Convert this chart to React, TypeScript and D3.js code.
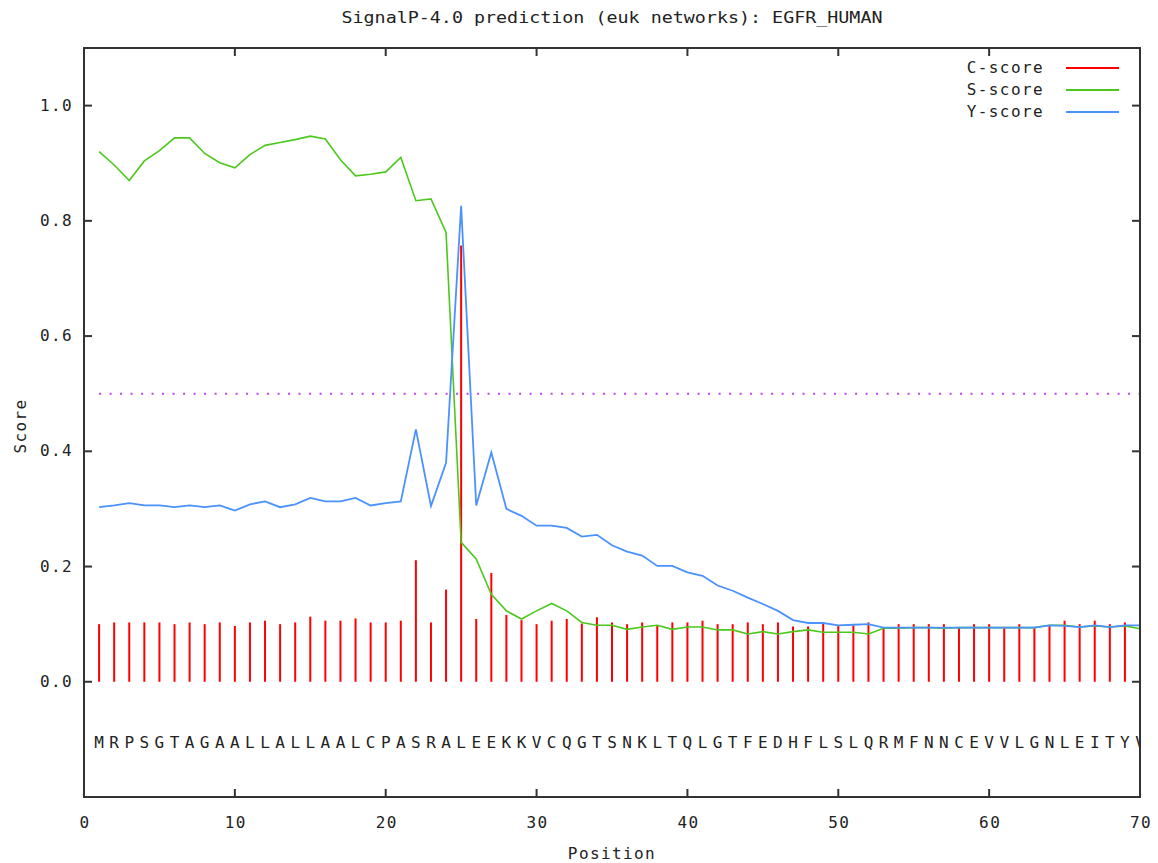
import { useRef, useEffect } from 'react';
import * as d3 from 'd3';

const title = 'SignalP-4.0 prediction (euk networks): EGFR_HUMAN';
const sequence = 'MRPSGTAGAALLALLAALCPASRALEEKKVCQGTSNKLTQLGTFEDHFLSLQRMFNNCEVVLGNLEITYV';

// scores per position 1..70
const cScore = [
  0.100, 0.103, 0.103, 0.103, 0.103, 0.100, 0.103, 0.100, 0.103, 0.097,
  0.103, 0.106, 0.100, 0.103, 0.113, 0.106, 0.106, 0.110, 0.103, 0.103,
  0.106, 0.211, 0.103, 0.160, 0.757, 0.109, 0.189, 0.116, 0.107, 0.100,
  0.106, 0.109, 0.101, 0.112, 0.103, 0.100, 0.103, 0.097, 0.103, 0.103,
  0.106, 0.100, 0.100, 0.103, 0.100, 0.103, 0.096, 0.096, 0.101, 0.097,
  0.098, 0.103, 0.094, 0.100, 0.100, 0.100, 0.100, 0.094, 0.100, 0.100,
  0.094, 0.100, 0.094, 0.097, 0.106, 0.100, 0.106, 0.100, 0.103, 0.100,
];
const sScore = [
  0.920, 0.897, 0.870, 0.904, 0.922, 0.944, 0.944, 0.917, 0.901, 0.892,
  0.915, 0.931, 0.936, 0.941, 0.947, 0.942, 0.906, 0.878, 0.881, 0.885,
  0.910, 0.835, 0.838, 0.780, 0.242, 0.213, 0.152, 0.123, 0.109, 0.123,
  0.136, 0.123, 0.103, 0.098, 0.098, 0.091, 0.095, 0.098, 0.091, 0.095,
  0.095, 0.090, 0.090, 0.083, 0.087, 0.083, 0.087, 0.090, 0.086, 0.086,
  0.086, 0.083, 0.093, 0.093, 0.094, 0.094, 0.093, 0.094, 0.094, 0.094,
  0.094, 0.094, 0.094, 0.098, 0.098, 0.095, 0.097, 0.095, 0.097, 0.092,
];
const yScoreVals = [
  0.303, 0.306, 0.310, 0.306, 0.306, 0.303, 0.306, 0.303, 0.306, 0.297,
  0.308, 0.313, 0.303, 0.308, 0.319, 0.313, 0.313, 0.319, 0.306, 0.310,
  0.313, 0.438, 0.305, 0.380, 0.826, 0.306, 0.398, 0.300, 0.288, 0.271,
  0.271, 0.267, 0.252, 0.255, 0.237, 0.226, 0.219, 0.201, 0.201, 0.190,
  0.184, 0.167, 0.158, 0.146, 0.135, 0.123, 0.107, 0.102, 0.102, 0.098,
  0.099, 0.100, 0.094, 0.094, 0.094, 0.094, 0.094, 0.094, 0.094, 0.094,
  0.094, 0.094, 0.094, 0.098, 0.097, 0.095, 0.098, 0.095, 0.098, 0.098,
];

const xTicks = [0, 10, 20, 30, 40, 50, 60, 70];
const yTicks = [0.0, 0.2, 0.4, 0.6, 0.8, 1.0];
const threshold = 0.5;

const legend = [
  { label: 'C-score', color: '#ff0000' },
  { label: 'S-score', color: '#4cc81c' },
  { label: 'Y-score', color: '#4a92ff' },
];

const FONT = '"DejaVu Sans Mono", monospace';

export default function App() {
  const svgRef = useRef<SVGSVGElement>(null);

  useEffect(() => {
    if (!svgRef.current) return;
    const svg = d3.select(svgRef.current);
    svg.selectAll('*').remove();

    const width = 1158;
    const height = 863;
    const margin = { top: 48, right: 18, bottom: 66, left: 84 };
    const x0 = margin.left;
    const x1 = width - margin.right;
    const y0 = height - margin.bottom;
    const y1 = margin.top;

    const xScale = d3.scaleLinear().domain([0, 70]).range([x0, x1]);
    const yScale = d3.scaleLinear().domain([-0.2, 1.1]).range([y0, y1]);

    svg.append('rect').attr('width', width).attr('height', height).attr('fill', '#fff');

    svg.append('defs').append('clipPath').attr('id', 'plotclip')
      .append('rect').attr('x', x0).attr('y', y1).attr('width', x1 - x0).attr('height', y0 - y1);

    // gnuplot-like wide monospace text
    const txt = (sel: any) =>
      sel.attr('font-family', FONT).attr('font-size', 16).attr('fill', '#222');
    const wide = (sel: any) => sel.call(txt).attr('letter-spacing', 1.4);

    // Title
    svg.append('text')
      .attr('x', 612).attr('y', 23)
      .attr('text-anchor', 'middle')
      .attr('textLength', 541).attr('lengthAdjust', 'spacingAndGlyphs')
      .call(txt)
      .text(title);

    // threshold
    svg.append('line')
      .attr('x1', xScale(1)).attr('x2', xScale(70))
      .attr('y1', yScale(threshold)).attr('y2', yScale(threshold))
      .attr('stroke', '#c040f0').attr('stroke-width', 2)
      .attr('stroke-dasharray', '2 8.5');

    const idx = d3.range(1, 71);
    const plot = svg.append('g').attr('clip-path', 'url(#plotclip)');

    // C-score impulses
    plot.selectAll('line.c')
      .data(idx)
      .join('line')
      .attr('class', 'c')
      .attr('x1', (p) => xScale(p)).attr('x2', (p) => xScale(p))
      .attr('y1', yScale(0)).attr('y2', (p) => yScale(cScore[p - 1]))
      .attr('stroke', legend[0].color).attr('stroke-width', 2);

    const line = (vals: number[]) =>
      d3.line<number>()
        .x((p) => xScale(p))
        .y((p) => yScale(vals[p - 1]))(idx);

    plot.append('path').attr('d', line(sScore))
      .attr('fill', 'none').attr('stroke', legend[1].color).attr('stroke-width', 1.6);
    plot.append('path').attr('d', line(yScoreVals))
      .attr('fill', 'none').attr('stroke', legend[2].color).attr('stroke-width', 1.8);

    // sequence
    plot.selectAll('text.seq')
      .data(sequence.split(''))
      .join('text')
      .attr('class', 'seq')
      .attr('x', (_, i) => xScale(i + 1)).attr('y', 748)
      .attr('text-anchor', 'middle')
      .call(txt)
      .text((d) => d);

    // frame
    svg.append('rect')
      .attr('x', x0).attr('y', y1).attr('width', x1 - x0).attr('height', y0 - y1)
      .attr('fill', 'none').attr('stroke', '#333').attr('stroke-width', 2);

    const tickLen = 8;
    xTicks.forEach((t) => {
      const x = xScale(t);
      svg.append('line').attr('x1', x).attr('x2', x).attr('y1', y0).attr('y2', y0 - tickLen)
        .attr('stroke', '#333').attr('stroke-width', 2);
      svg.append('line').attr('x1', x).attr('x2', x).attr('y1', y1).attr('y2', y1 + tickLen)
        .attr('stroke', '#333').attr('stroke-width', 2);
      svg.append('text').attr('x', x + 1).attr('y', 828).attr('text-anchor', 'middle')
        .call(wide).text(String(t));
    });
    yTicks.forEach((t) => {
      const y = yScale(t);
      svg.append('line').attr('x1', x0).attr('x2', x0 + tickLen).attr('y1', y).attr('y2', y)
        .attr('stroke', '#333').attr('stroke-width', 2);
      svg.append('line').attr('x1', x1).attr('x2', x1 - tickLen).attr('y1', y).attr('y2', y)
        .attr('stroke', '#333').attr('stroke-width', 2);
      svg.append('text').attr('x', 73).attr('y', y + 5).attr('text-anchor', 'end')
        .call(wide).text(t.toFixed(1));
    });

    // axis labels
    svg.append('text').attr('x', 612).attr('y', 859).attr('text-anchor', 'middle')
      .call(wide).text('Position');
    svg.append('text')
      .attr('transform', `translate(26, 426) rotate(-90)`)
      .attr('text-anchor', 'middle')
      .call(wide).text('Score');

    // legend
    legend.forEach((l, i) => {
      const y = 68 + i * 22;
      svg.append('text').attr('x', 1044).attr('y', y + 5).attr('text-anchor', 'end')
        .call(wide).text(l.label);
      svg.append('line').attr('x1', 1066).attr('x2', 1119).attr('y1', y).attr('y2', y)
        .attr('stroke', l.color).attr('stroke-width', 2);
    });
  }, []);

  return (
    <svg
      ref={svgRef}
      width={1158}
      height={863}
      style={{ position: 'absolute', left: 0, top: 0, display: 'block' }}
    />
  );
}
